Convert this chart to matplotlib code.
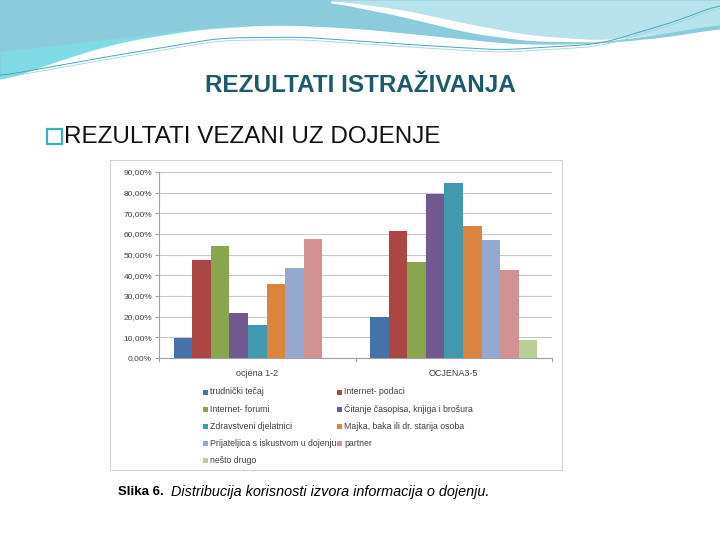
import numpy as np
import matplotlib
matplotlib.use("Agg")
import matplotlib.pyplot as plt
from matplotlib.patches import Rectangle

categories = ["ocjena 1-2", "OCJENA3-5"]
series_names = [
    "trudnički tečaj",
    "Internet- podaci",
    "Internet- forumi",
    "Čitanje časopisa, knjiga i brošura",
    "Zdravstveni djelatnici",
    "Majka, baka ili dr. starija osoba",
    "Prijateljica s iskustvom u dojenju",
    "partner",
    "nešto drugo",
]
values_ocjena_1_2 = [9.5, 47.5, 54.0, 22.0, 16.0, 36.0, 43.5, 57.5, 0.0]
values_ocjena_3_5 = [20.0, 61.5, 46.5, 79.5, 84.5, 64.0, 57.0, 42.5, 8.5]
colors = ["#4572A7", "#AA4643", "#89A54E", "#71588F", "#4198AF",
          "#DB843D", "#93A9CF", "#D19392", "#B9CD96"]
yticks = [0, 10, 20, 30, 40, 50, 60, 70, 80, 90]

plt.rcParams['font.family'] = ['Liberation Sans', 'DejaVu Sans']
fig = plt.figure(figsize=(7.2, 5.4), dpi=100)
fig.patch.set_facecolor("white")

# --- decorative slide background (top waves), pixel coordinates ---
bg = fig.add_axes([0, 0, 1, 1], zorder=0)
bg.set_xlim(0, 720)
bg.set_ylim(540, 0)
bg.axis("off")
x = np.linspace(0, 720, 721)


def smooth_curve(xp, yp, win=61):
    y = np.interp(x, xp, yp)
    pad = win // 2
    yy = np.concatenate([np.full(pad, y[0]), y, np.full(pad, y[-1])])
    return np.convolve(yy, np.ones(win) / win, mode="valid")


lower_edge = smooth_curve([0, 60, 120, 200, 280, 360, 440, 520, 600, 680, 720],
                          [82, 60, 42, 29, 25, 29, 37, 45, 44, 36, 28])
bg.fill_between(x, 0, lower_edge, color="#8ccbdc", lw=0)
glow_top = smooth_curve([0, 100, 200, 260], [52, 40, 28, 26])
bg.fill_between(x, glow_top, lower_edge, where=(x < 240), color="#7fdde8", lw=0, alpha=0.85)
# upper right light region and white swoosh
swoosh_top = smooth_curve([330, 400, 470, 530, 600, 660, 720], [0, 9, 24, 35, 40, 34, 24], win=41)
swoosh_w = smooth_curve([330, 400, 470, 530, 600, 660, 720], [2, 7, 9, 6, 2, 0, 0], win=41)
right = x > 330
bg.fill_between(x, 0, swoosh_top, where=right, color="#b7e4ec", lw=0)
bg.fill_between(x, swoosh_top, swoosh_top + swoosh_w, where=right, color="white", lw=0)
# thin lines
line1 = smooth_curve([0, 100, 220, 300, 400, 500, 600, 680, 720],
                     [76, 58, 38, 37, 44, 50, 44, 20, 4], win=41)
bg.plot(x, line1, color="#4aa6b8", lw=0.7)
bg.plot(x, line1 + 2.5, color="#9bd6e2", lw=0.6)

# titles
fig.text(0.5, 1 - 86 / 540, "REZULTATI ISTRAŽIVANJA", ha="center", va="center",
         fontsize=17.5, fontweight="bold", color="#1d5b6b")
bg.add_patch(Rectangle((47, 129), 15, 15, fill=False, edgecolor="#3bb0c3", lw=1.6))
fig.text(64 / 720, 1 - 137 / 540, "REZULTATI VEZANI UZ DOJENJE", ha="left",
         va="center", fontsize=17.5, color="#111111")

# chart frame
bg.add_patch(Rectangle((110, 160), 452, 310, facecolor="white",
                       edgecolor="#d0d0d0", lw=0.8))

# --- chart ---
ax = fig.add_axes([159 / 720, 1 - 358 / 540, (552 - 159) / 720, (358 - 172) / 540], zorder=2)
n = len(series_names)
bar_w = 0.0947
xc = np.arange(len(categories))
for i, name in enumerate(series_names):
    vals = [values_ocjena_1_2[i], values_ocjena_3_5[i]]
    pos = xc - (n * bar_w) / 2 + bar_w * (i + 0.5)
    ax.bar(pos, vals, width=bar_w, color=colors[i], label=name, zorder=3,
           edgecolor="none")

ax.set_xlim(-0.5, 1.5)
ax.set_ylim(0, 90)
ax.set_yticks(yticks)
ax.set_yticklabels([f"{v:.2f}%".replace(".", ",") for v in yticks],
                   fontsize=6, color="#404040")
ax.yaxis.grid(True, color="#c8c8c8", lw=0.8, zorder=0)
ax.set_axisbelow(True)
ax.set_xticks(xc)
ax.set_xticklabels(categories, fontsize=6.5, color="#404040")
ax.tick_params(axis="x", length=0, pad=8)
ax.tick_params(axis="y", length=3, color="#a0a0a0", pad=2)
for s in ["top", "right"]:
    ax.spines[s].set_visible(False)
for s in ["left", "bottom"]:
    ax.spines[s].set_color("#a0a0a0")
    ax.spines[s].set_linewidth(0.8)
for xv in [-0.5, 0.5, 1.5]:
    ax.plot([xv, xv], [0, -1.6], color="#a0a0a0", lw=0.8, clip_on=False)

# legend: two columns, row-major order (pixel coordinates on overlay axes)
leg_x = [203, 337]
leg_y0, leg_dy = 392, 17.2
ov = fig.add_axes([0, 0, 1, 1], zorder=3)
ov.set_xlim(0, 720)
ov.set_ylim(540, 0)
ov.axis("off")
for i, name in enumerate(series_names):
    r, c = divmod(i, 2)
    yy = leg_y0 + r * leg_dy
    ov.add_patch(Rectangle((leg_x[c], yy - 2.5), 5, 5, facecolor=colors[i], lw=0))
    ov.text(leg_x[c] + 7, yy, name, ha="left", va="center", fontsize=6.3,
            color="#404040")

# caption
fig.text(118 / 720, 1 - 492 / 540, "Slika 6.", ha="left", va="center",
         fontsize=9.5, fontweight="bold", color="black")
fig.text(171 / 720, 1 - 492 / 540, "Distribucija korisnosti izvora informacija o dojenju.",
         ha="left", va="center", fontsize=10.4, fontstyle="italic", color="black")

fig.savefig("out.png", dpi=100, facecolor="white")
